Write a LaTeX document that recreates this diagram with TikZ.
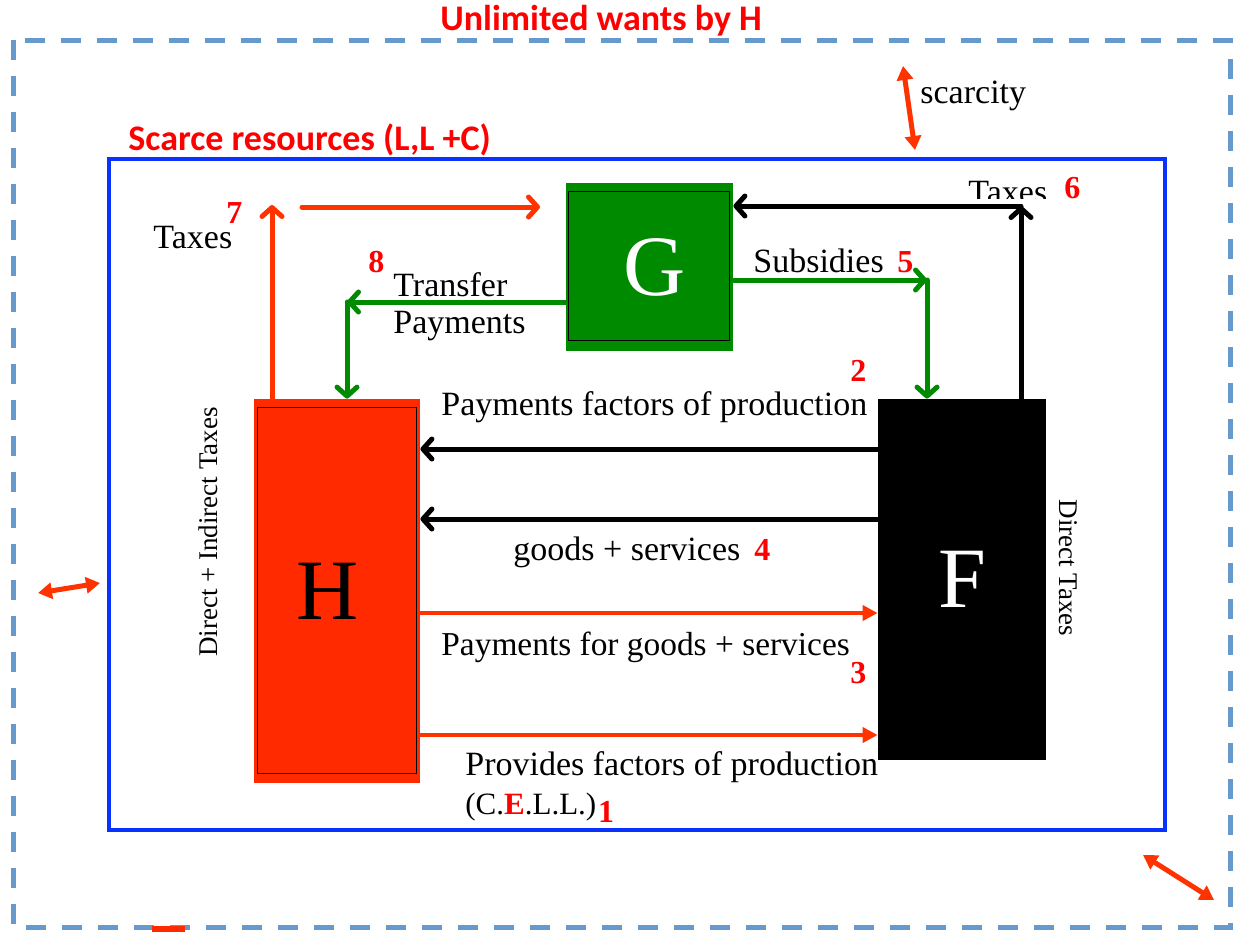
\documentclass[tikz,border=0pt]{standalone}
\usepackage{fontspec}
\setmainfont{Liberation Serif}
\newfontfamily\calfont{Carlito}
\usetikzlibrary{arrows.meta,calc}
\definecolor{hred}{HTML}{FF2A00}
\definecolor{ared}{HTML}{FF3300}
\definecolor{tred}{HTML}{FF0000}
\definecolor{ggreen}{HTML}{008A00}
\definecolor{bblue}{HTML}{0A32FF}
\definecolor{dblue}{HTML}{6699CC}
\begin{document}
\begin{tikzpicture}[x=0.5pt,y=-0.5pt,
  lbl/.style={anchor=base west, inner sep=0pt, font=\fontsize{17}{20}\selectfont},
  num/.style={anchor=base west, inner sep=0pt, text=tred, font=\fontsize{16}{19}\selectfont\bfseries},
  ttl/.style={anchor=base west, inner sep=0pt, text=tred, font=\calfont\fontsize{18}{21}\selectfont\bfseries},
  vlbl/.style={inner sep=0pt, font=\fontsize{13.5}{16}\selectfont},
  big/.style={inner sep=0pt, font=\fontsize{43}{48}\selectfont},
  openarrow/.style={line width=2.5pt, line cap=round, -{Straight Barb[length=4.5pt,width=10pt,round]}},
  solidarrow/.style={ared, line width=2pt, -{Triangle[length=7.5pt,width=7.5pt]}},
  dblarrow/.style={ared, line width=2.5pt, {Triangle[length=7pt,width=8pt]}-{Triangle[length=7pt,width=8pt]}},
  innerframe/.style={line width=0.6pt}
]
\useasboundingbox (0,0) rectangle (1234,932);
% frames
\draw[dblue, line width=2.5pt, dash pattern=on 10pt off 8pt] (13,40) rectangle (1230,927);
\fill[hred] (152,926) rectangle (185,932);
\draw[bblue, line width=2.2pt] (109,159) rectangle (1165,830);
% titles
\node[ttl] (uw) at (440,30) {Unlimited wants by H};
\node[ttl] (sr) at (128,150) {Scarce resources (L,L +C)};
% boxes
\node[fill=ggreen, minimum width=83.5pt, minimum height=84pt, text=white, big] (G) at (649.5,267) {\kern5pt G};
\draw[innerframe] ($(G.north west)+(3,9)$) rectangle ($(G.south east)+(-4,-11)$);
\node[fill=hred, minimum width=83pt, minimum height=192pt, text=black, big] (H) at (337,591) {\kern-9pt H};
\draw[innerframe] ($(H.north west)+(4,9)$) rectangle ($(H.south east)+(-4,-10)$);
\node[fill=black, minimum width=84pt, minimum height=180.5pt, text=white, big] (F) at (962,579.5) {F};
% Taxes 7
\coordinate (t7top) at (272,205);
\draw[ared, openarrow] (H.north -| t7top) -- (t7top);
\coordinate (t7a) at (302,207);
\coordinate (t7b) at (540,207);
\draw[ared, openarrow] (t7a) -- (t7b);
% Transfer payments 8
\coordinate (tpc) at (347,302);
\draw[ggreen, openarrow] (G.west |- tpc) -- (tpc);
\draw[ggreen, openarrow] (tpc) -- (tpc |- H.north);
% Subsidies 5
\coordinate (sbc) at (927,280);
\draw[ggreen, openarrow] (G.east |- sbc) -- (sbc);
\draw[ggreen, openarrow] (sbc) -- (sbc |- F.north);
% Taxes 6
\coordinate (t6c) at (1021,206);
\draw[black, openarrow] (F.north -| t6c) -- (t6c);
\draw[black, openarrow] (t6c) -- (G.east |- t6c);
% flows between H and F
\coordinate (pf) at (0,449);
\coordinate (gsv) at (0,519);
\coordinate (pg) at (0,613);
\coordinate (pv) at (0,735);
\draw[black, openarrow] (F.west |- pf) -- (H.east |- pf);
\draw[black, openarrow] (F.west |- gsv) -- (H.east |- gsv);
\draw[solidarrow] (H.east |- pg) -- (F.west |- pg);
\draw[solidarrow] (H.east |- pv) -- (F.west |- pv);
% scarcity arrows
\coordinate (s1a) at (903,66);
\coordinate (s1b) at (915,150);
\draw[dblarrow] (s1a) -- (s1b);
\coordinate (s2a) at (38,593);
\coordinate (s2b) at (100,583);
\draw[dblarrow] (s2a) -- (s2b);
\coordinate (s3a) at (1143,855);
\coordinate (s3b) at (1214,900);
\draw[dblarrow] (s3a) -- (s3b);
% labels
\node[lbl] (sc) at (920,103) {scarcity};
\node[lbl] (tx7) at (153,248) {Taxes};
\node[num] (n7) at (226,223) {7};
\node[num] (n8) at (368,272) {8};
\node[lbl] (tr) at (393,296) {Transfer};
\node[lbl] (tp) at (393,333) {Payments};
\node[lbl] (sub) at (753,272) {Subsidies};
\node[num] (n5) at (897,272) {5};
\begin{scope}
\clip (960,160) rectangle (1060,198);
\node[lbl] (tx6) at (968,203) {Taxes};
\end{scope}
\node[num] (n6) at (1064,198) {6};
\node[num] (n2) at (850,381) {2};
\node[lbl] (pfp) at (441,415) {Payments factors of production};
\node[lbl] (gs) at (513,560) {goods + services};
\node[num] (n4) at (754,560) {4};
\node[lbl, font=\fontsize{16.7}{20}\selectfont] (pgs) at (441,655) {Payments for goods + services};
\node[num] (n3) at (850,683) {3};
\node[lbl] (pro) at (465,775) {Provides factors of production};
\node[lbl, font=\fontsize{15.5}{18}\selectfont] (cell) at (465,814) {(C.\textcolor{tred}{\textbf{E}}.L.L.)};
\node[num, anchor=base west] (n1) at ($(cell.base east)+(1,8)$) {1};
\node[vlbl, rotate=90] (dit) at (208,532) {Direct + Indirect Taxes};
\node[vlbl, rotate=-90] (dt) at (1068,568) {Direct Taxes};
\end{tikzpicture}
\end{document}
